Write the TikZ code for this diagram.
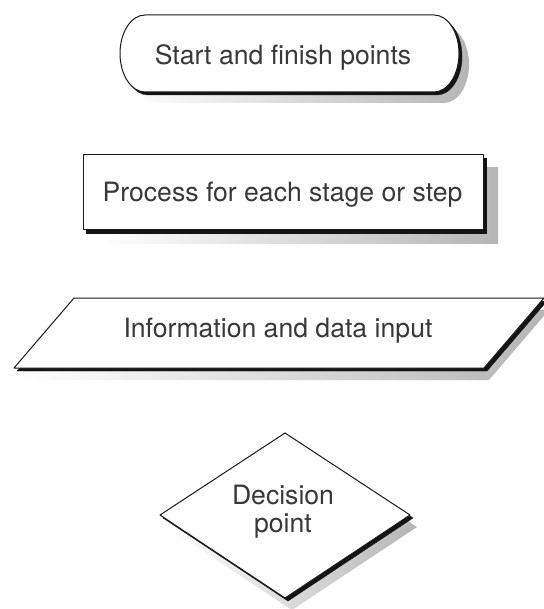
\documentclass[tikz,border=0pt]{standalone}
\usepackage{fontspec}
\setmainfont{TeX Gyre Heros}
\begin{document}
\begin{tikzpicture}[x=1pt,y=-1pt,
    symbolbox/.style={fill=white,draw=black!90,line width=1pt,line join=round,
      preaction={draw=none,left color=white,right color=black!29,
        transform canvas={shift={(#1)}}},
      preaction={fill=black!92,draw=black!92,
        transform canvas={shift={(3,3)}}}},
    txt/.style={font=\fontsize{26.6}{28}\selectfont,text=black!78,inner sep=0pt}]

    \useasboundingbox (0,0) rectangle (543,609);

    % the symbols

    \path[symbolbox={10,11}] (145,15) -- (434,15)
    arc[start angle=-90,end angle=90,x radius=25,y radius=38.5] -- (145,92)
    arc[start angle=90,end angle=270,x radius=25,y radius=38.5] -- cycle;
    \path[symbolbox={15,13}] (83,155) rectangle (483,230);
    \path[symbolbox={5,12}] (14,368) -- (74,298) -- (544,298) -- (484,368) -- cycle;
    \path[symbolbox={7,12}] (160,515) -- (285,433) -- (410,515) -- (285,598) -- cycle;

    % the texts

    \node[txt,anchor=base] (start) at (283,65) {Start and finish points};
    \node[txt,anchor=base] (process) at (282.5,202) {Process for each stage or step};
    \node[txt,anchor=base] (input) at (278,337) {Information and data input};
    \node[txt,align=center] (decision) at (283,512) {Decision\\point};
  \end{tikzpicture}
\end{document}
